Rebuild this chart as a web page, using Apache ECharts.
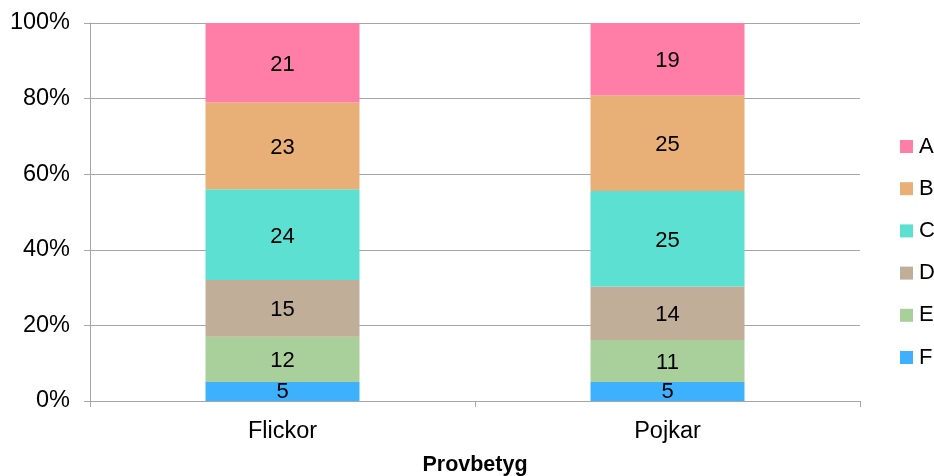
<!DOCTYPE html>
<html><head><meta charset="utf-8">
<script src="https://cdn.jsdelivr.net/npm/echarts@6/dist/echarts.min.js"></script>
<style>html,body{margin:0;padding:0;background:#fff}#c{width:934px;height:476px}</style>
</head><body><div id="c"></div>
<script>
const categories = ['Flickor', 'Pojkar'];
const grades = ['F', 'E', 'D', 'C', 'B', 'A'];
const valuesF = [5, 5];
const valuesE = [12, 11];
const valuesD = [15, 14];
const valuesC = [24, 25];
const valuesB = [23, 25];
const valuesA = [21, 19];
const yTicks = [0, 20, 40, 60, 80, 100];
const colors = { F: '#3DB1FD', E: '#A9D09B', D: '#C1AE99', C: '#5CE0D1', B: '#E8B077', A: '#FF7EA7' };

const raw = { F: valuesF, E: valuesE, D: valuesD, C: valuesC, B: valuesB, A: valuesA };
const totals = categories.map((_, i) => grades.reduce((s, g) => s + raw[g][i], 0));
const font = 'Liberation Sans, Arial, sans-serif';

const series = grades.map(g => ({
  name: g,
  type: 'bar',
  stack: 'total',
  barWidth: '40%',
  itemStyle: { color: colors[g] },
  label: {
    show: true, position: 'inside', color: '#000', fontSize: 22, fontFamily: font,
    offset: [0, g === 'F' ? 0 : 2],
    formatter: p => String(raw[g][p.dataIndex])
  },
  data: raw[g].map((v, i) => v / totals[i] * 100)
}));

const chart = echarts.init(document.getElementById('c'), null, { renderer: 'canvas' });
chart.setOption({
  animation: false,
  textStyle: { fontFamily: font },
  grid: { left: 90, right: 74, top: 23, bottom: 75, containLabel: false, outerBoundsMode: 'none' },
  legend: {
    orient: 'vertical', left: 900, top: 135.5, padding: 0,
    data: grades.slice().reverse(),
    icon: 'rect', itemWidth: 13, itemHeight: 13, itemGap: 20.2,
    textStyle: { fontSize: 22, color: '#000', fontFamily: font, lineHeight: 22, padding: [0, 0, 0, 1] }
  },
  xAxis: {
    type: 'category', data: categories,
    name: 'Provbetyg', nameLocation: 'middle', nameGap: 53,
    nameTextStyle: { fontSize: 21.5, fontWeight: 'bold', color: '#000', fontFamily: font },
    axisLine: { lineStyle: { color: '#a6a6a6', width: 1 } },
    axisTick: { show: true, length: 6, lineStyle: { color: '#a6a6a6' } },
    axisLabel: { fontSize: 23.5, color: '#000', margin: 19, fontFamily: font }
  },
  yAxis: {
    type: 'value', min: 0, max: 100, interval: 20,
    axisLine: { show: true, lineStyle: { color: '#a6a6a6', width: 1 } },
    axisTick: { show: true, length: 6, lineStyle: { color: '#a6a6a6' } },
    splitLine: { lineStyle: { color: '#a6a6a6', width: 1 } },
    axisLabel: { fontSize: 23.5, color: '#000', margin: 20, fontFamily: font,
      formatter: v => yTicks.includes(v) ? v + '%' : '' }
  },
  series: series
});
</script></body></html>
